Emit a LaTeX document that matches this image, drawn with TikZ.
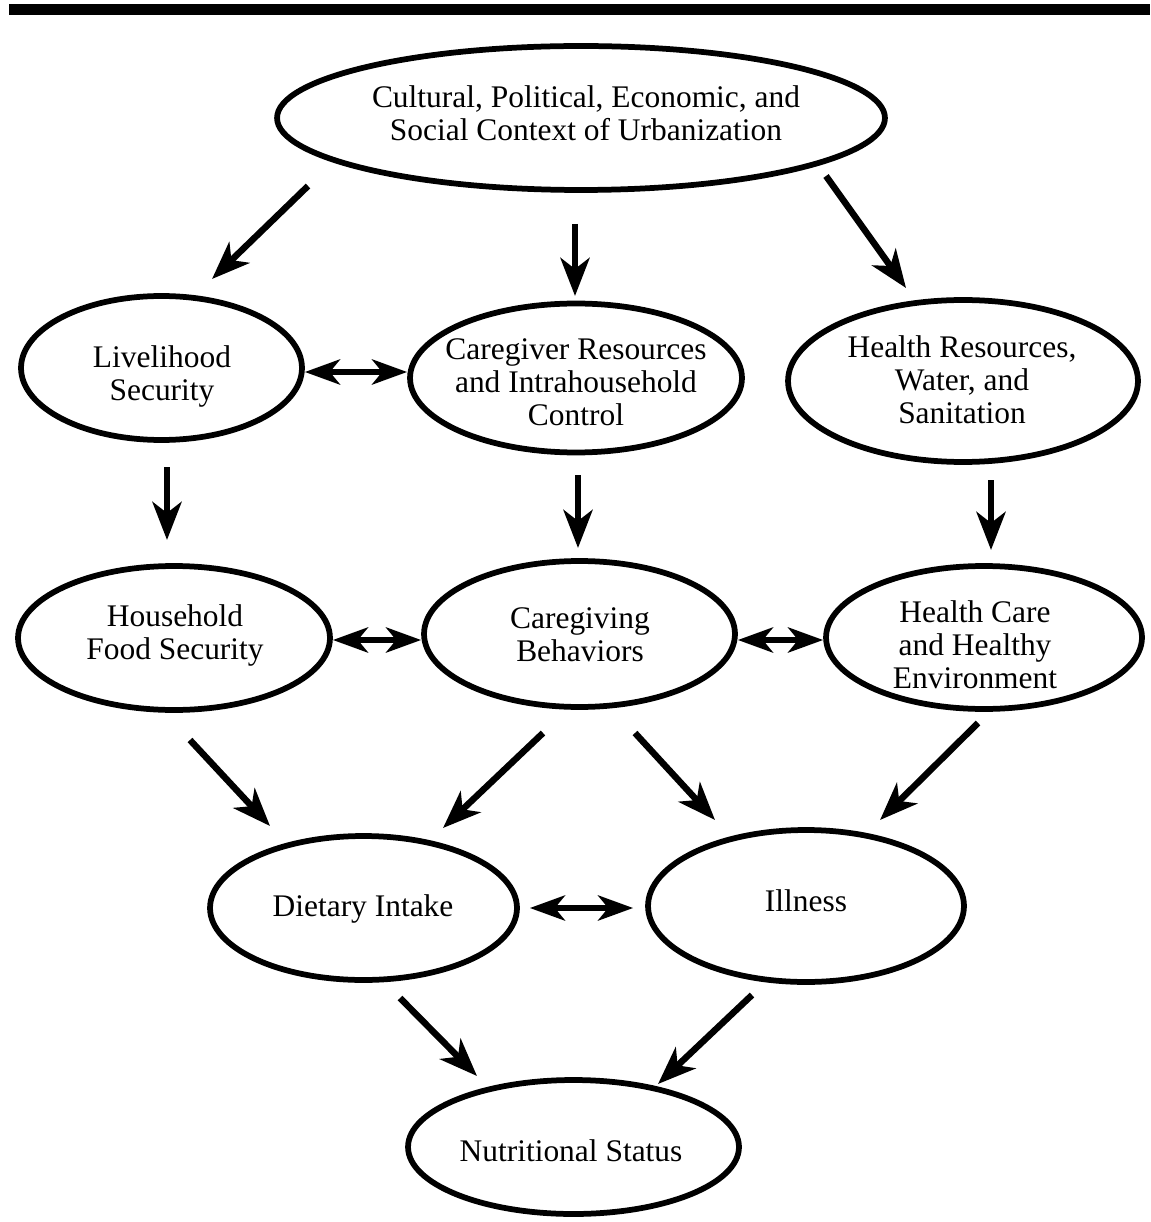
\documentclass[tikz,border=0pt]{standalone}
\usepackage{fontspec}
\setmainfont{Liberation Serif}
\usetikzlibrary{shapes.geometric,arrows.meta,calc}
\begin{document}
\begin{tikzpicture}[x=0.02cm,y=-0.02cm,
  oval/.style={ellipse,draw,line width=0.115cm,inner sep=0pt},
  lbl/.style={align=center,inner sep=0pt,font=\fontsize{17.9}{18.8}\selectfont},
  arr/.style={line width=0.13cm,-{Stealth[length=0.76cm,width=0.58cm,inset=0.22cm]}},
  dbl/.style={line width=0.13cm,{Stealth[length=0.7cm,width=0.5cm,inset=0.2cm]}-{Stealth[length=0.7cm,width=0.5cm,inset=0.2cm]}}]
\useasboundingbox (0,0) rectangle (1150,1222);
\fill (9,4) rectangle (1150,15);
% ellipses
\node[oval,minimum width=12.16cm,minimum height=2.88cm] (top) at (581,118) {};
\node[oval,minimum width=5.62cm,minimum height=2.88cm] (live) at (161.5,368) {};
\node[oval,minimum width=6.64cm,minimum height=2.98cm] (cres) at (576,378) {};
\node[oval,minimum width=7.0cm,minimum height=3.24cm] (hres) at (963,381) {};
\node[oval,minimum width=6.24cm,minimum height=2.88cm] (hfs) at (174,638) {};
\node[oval,minimum width=6.22cm,minimum height=2.92cm] (cgb) at (579.5,634) {};
\node[oval,minimum width=6.32cm,minimum height=2.86cm] (hc) at (984,637.5) {};
\node[oval,minimum width=6.14cm,minimum height=2.88cm] (di) at (363.5,908) {};
\node[oval,minimum width=6.32cm,minimum height=3.04cm] (ill) at (806,906) {};
\node[oval,minimum width=6.62cm,minimum height=2.68cm] (nut) at (573.5,1147) {};
% labels
\node[lbl] (top-t) at (586,113) {Cultural, Political, Economic, and\\Social Context of Urbanization};
\node[lbl] (live-t) at (162,376) {Livelihood\\Security};
\node[lbl] (cres-t) at (576,382) {Caregiver Resources\\and Intrahousehold\\Control};
\node[lbl] (hres-t) at (962,380) {Health Resources,\\Water, and\\Sanitation};
\node[lbl] (hfs-t) at (175,635) {Household\\Food Security};
\node[lbl] (cgb-t) at (580,635) {Caregiving\\Behaviors};
\node[lbl] (hc-t) at (975,645) {Health Care\\and Healthy\\Environment};
\node[lbl] (di-t) at (363,909) {Dietary Intake};
\node[lbl] (ill-t) at (806,901) {Illness};
\node[lbl] (nut-t) at (571,1151) {Nutritional Status};
% arrow end points
\coordinate (a1s) at (308,186);  \coordinate (a1e) at (212,279);
\coordinate (a2s) at (575,224);  \coordinate (a2e) at (575,296);
\coordinate (a3s) at (826,176);  \coordinate (a3e) at (906,288);
\coordinate (a5s) at (167,467);  \coordinate (a5e) at (167,540);
\coordinate (a6s) at (578,475);  \coordinate (a6e) at (578,548);
\coordinate (a7s) at (991,480);  \coordinate (a7e) at (991,550);
\coordinate (a10s) at (190,740); \coordinate (a10e) at (270,826);
\coordinate (a11s) at (543,733); \coordinate (a11e) at (443,828);
\coordinate (a12s) at (635,733); \coordinate (a12e) at (715,820);
\coordinate (a13s) at (978,723); \coordinate (a13e) at (880,820);
\coordinate (a15s) at (400,998); \coordinate (a15e) at (477,1076);
\coordinate (a16s) at (752,995); \coordinate (a16e) at (658,1084);
\coordinate (r2) at (0,372);
\coordinate (r3) at (0,640);
\coordinate (r4) at (0,908);
% arrows
\foreach \a in {a1,a2,a3,a5,a6,a7,a10,a11,a12,a13,a15,a16}
  \draw[arr] (\a s) -- (\a e);
\draw[dbl] (live.east |- r2) -- (cres.west |- r2);
\draw[dbl] (hfs.east |- r3) -- (cgb.west |- r3);
\draw[dbl] (cgb.east |- r3) -- (hc.west |- r3);
\draw[dbl,shorten <=0.2cm,shorten >=0.24cm] (di.east |- r4) -- (ill.west |- r4);
\end{tikzpicture}
\end{document}
